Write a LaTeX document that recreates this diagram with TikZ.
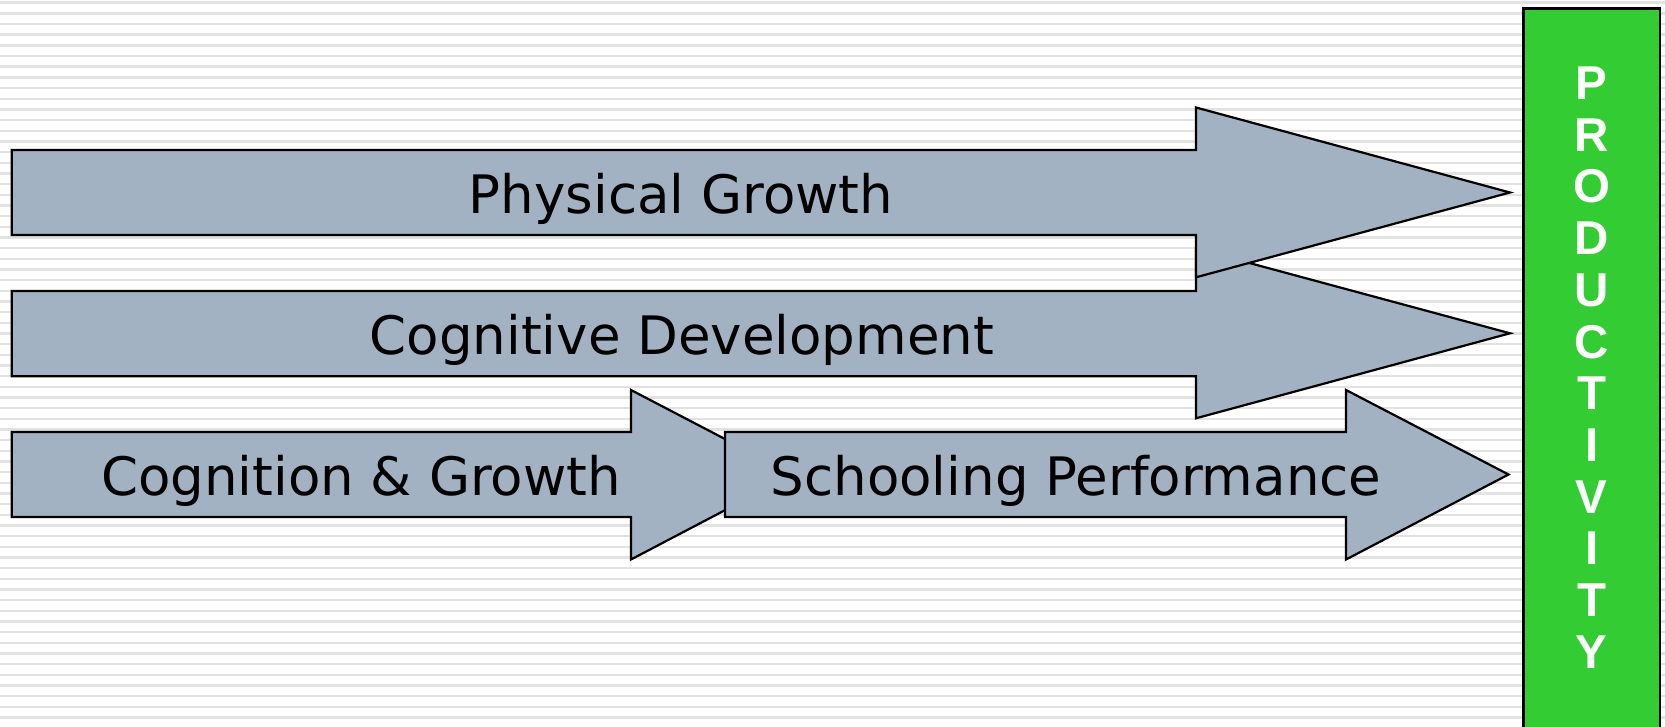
\documentclass[tikz,border=0pt]{standalone}
\usepackage{fontspec}
\setmainfont{DejaVu Sans}
\newfontfamily\boxfont{Liberation Sans}
\definecolor{arrowfill}{HTML}{A3B2C2}
\definecolor{prodgreen}{HTML}{33CC33}
\definecolor{stripecol}{HTML}{E2E2E2}
\begin{document}
\begin{tikzpicture}[x=1pt,y=-1pt,
  arrowshape/.style={fill=arrowfill,draw=black,line width=2.2pt,line join=miter},
  lbl/.style={anchor=base,inner sep=0pt,font=\fontsize{53}{60}\selectfont},
  letter/.style={anchor=base,inner sep=0pt,text=white,font=\boxfont\bfseries\fontsize{47.5}{50}\selectfont},
  stripeline/.style={draw=stripecol,line width=2.4pt}]
\useasboundingbox (0,0) rectangle (1665,727);
\fill[white] (0,0) rectangle (1665,727);
\foreach \k in {0,...,68} \draw[stripeline] (0,2.7+10.667*\k) -- (1665,2.7+10.667*\k);
% arrow 2 (under arrow 1)
\draw[arrowshape] (11.7,291) -- (1196,291) -- (1196,248.6) -- (1510,333.3) -- (1196,418.3) -- (1196,376.3) -- (11.7,376.3) -- cycle;
% arrow 1
\draw[arrowshape] (11.7,150) -- (1196,150) -- (1196,107.5) -- (1510,192.5) -- (1196,277.3) -- (1196,235) -- (11.7,235) -- cycle;
% arrow 3
\draw[arrowshape] (11.7,432) -- (631,432) -- (631,390) -- (793,474.5) -- (631,559.5) -- (631,517) -- (11.7,517) -- cycle;
% arrow 4
\draw[arrowshape] (725,432) -- (1346,432) -- (1346,390) -- (1508.5,474.5) -- (1346,559.5) -- (1346,517) -- (725,517) -- cycle;
\node[lbl] (phys) at (681,213.3) {Physical Growth};
\node[lbl] (cogdev) at (682,354) {Cognitive Development};
\node[lbl] (coggrow) at (361,495) {Cognition \& Growth};
\node[lbl] (school) at (1076,495) {Schooling Performance};
% productivity box
\draw[fill=prodgreen,line width=2.6pt] (1523.5,8.3) rectangle (1660,745);
\foreach \c [count=\i from 0] in {P,R,O,D,U,C,T,I,V,I,T,Y}
  \node[letter] (l\i) at (1591.7,99.5+51.7*\i) {\c};
\end{tikzpicture}
\end{document}
